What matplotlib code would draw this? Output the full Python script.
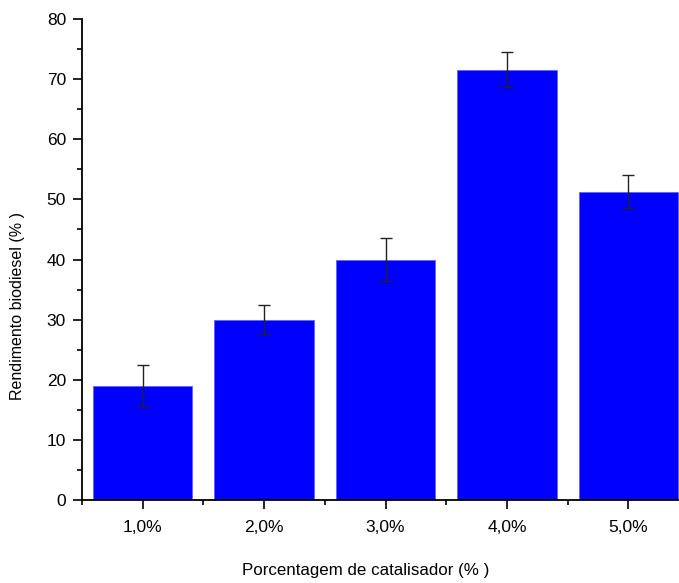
import matplotlib
matplotlib.use("Agg")
import matplotlib.pyplot as plt
from matplotlib.ticker import MultipleLocator, FixedLocator

categories = ["1,0%", "2,0%", "3,0%", "4,0%", "5,0%"]
values = [19.0, 30.0, 40.0, 71.6, 51.3]
errors = [3.4, 2.4, 3.6, 2.9, 2.8]

plt.rcParams['font.family'] = ['Liberation Sans', 'DejaVu Sans']

fig = plt.figure(figsize=(6.79, 5.83), dpi=100)
ax = fig.add_axes([82/679, 83/583, 607/679, 481/583])

x = list(range(1, len(categories) + 1))
ax.bar(x, values, width=0.82, color='#0000FF', edgecolor='#6060ff', linewidth=0.6, zorder=2)
ax.errorbar(x, values, yerr=errors, fmt='none', ecolor='#222222', elinewidth=1.0,
            capsize=4, capthick=1.0, zorder=3)

ax.set_xlim(0.5, 5.5)
ax.set_ylim(0, 80)
ax.set_xticks(x)
ax.set_xticklabels(categories)
ax.xaxis.set_minor_locator(FixedLocator([0.5, 1.5, 2.5, 3.5, 4.5]))
ax.yaxis.set_major_locator(MultipleLocator(10))
ax.yaxis.set_minor_locator(MultipleLocator(5))

for s in ['top', 'right']:
    ax.spines[s].set_visible(False)
for s in ['left', 'bottom']:
    ax.spines[s].set_linewidth(1.3)
    ax.spines[s].set_zorder(4)

ax.tick_params(which='major', direction='out', length=6.5, width=1.2, labelsize=12.5, pad=5)
ax.tick_params(axis='x', which='major', pad=8)
ax.tick_params(which='minor', direction='out', length=3.5, width=1.2)

fig.text(366/679, 1 - 571/583, "Porcentagem de catalisador (% )", fontsize=12.2,
         ha='center', va='center')
fig.text(18/679, 1 - 306/583, "Rendimento biodiesel (% )", fontsize=11.5,
         ha='center', va='center', rotation=90)

fig.savefig("out.png", dpi=100)
